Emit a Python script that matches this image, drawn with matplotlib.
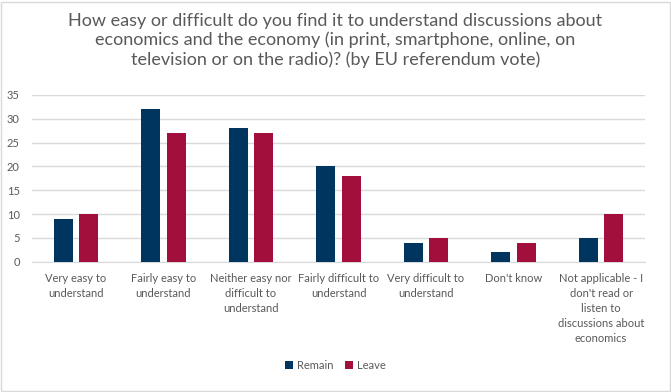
import matplotlib
matplotlib.use("Agg")
import matplotlib.pyplot as plt
import numpy as np
from matplotlib.patches import Rectangle

# data
categories = [
    "Very easy to\nunderstand",
    "Fairly easy to\nunderstand",
    "Neither easy nor\ndifficult to\nunderstand",
    "Fairly difficult to\nunderstand",
    "Very difficult to\nunderstand",
    "Don't know",
    "Not applicable - I\ndon't read or\nlisten to\ndiscussions about\neconomics",
]
remain = [9, 32, 28, 20, 4, 2, 5]
leave = [10, 27, 27, 18, 5, 4, 10]
yticks = [0, 5, 10, 15, 20, 25, 30, 35]

title = ("How easy or difficult do you find it to understand discussions about\n"
         "economics and the economy (in print, smartphone, online, on\n"
         "television or on the radio)? (by EU referendum vote)")

NAVY = "#00355F"
CRIMSON = "#A20F3C"
TEXT = "#595959"

plt.rcParams["font.family"] = ["Lato", "DejaVu Sans"]

fig = plt.figure(figsize=(6.71, 3.92), dpi=100)
ax = fig.add_axes([0.048, 0.332, 0.913, 0.426])

x = np.arange(len(categories))
w = 0.22
gap = 0.035
ax.bar(x - w / 2 - gap, remain, w, color=NAVY, label="Remain", zorder=3)
ax.bar(x + w / 2 + gap, leave, w, color=CRIMSON, label="Leave", zorder=3)

ax.set_xlim(-0.5, len(categories) - 0.5)
ax.set_ylim(0, 35)
ax.set_yticks(yticks)
ax.yaxis.grid(True, color="#d9d9d9", linewidth=1, zorder=0)
ax.set_xticks(x)
ax.set_xticklabels(categories, fontsize=8, color=TEXT, linespacing=1.45, va="top")
ax.tick_params(axis="both", length=0, labelsize=8, labelcolor=TEXT)
ax.tick_params(axis="x", pad=8)
ax.tick_params(axis="y", pad=9)
for s in ["top", "right", "left"]:
    ax.spines[s].set_visible(False)
ax.spines["bottom"].set_color("#d9d9d9")

fig.text(0.5, 0.968, title, ha="center", va="top", fontsize=13, color=TEXT,
         linespacing=1.25)

fig.legend(loc="center", bbox_to_anchor=(0.5, 0.068), ncol=2, frameon=False,
           fontsize=8, labelcolor=TEXT, handlelength=0.7, handleheight=0.7,
           columnspacing=1.0, handletextpad=0.4)

fig.patches.append(Rectangle((0.002, 0.002), 0.996, 0.994, transform=fig.transFigure,
                             fill=False, edgecolor="#d9d9d9", linewidth=1))

fig.savefig("out.png", dpi=100)
